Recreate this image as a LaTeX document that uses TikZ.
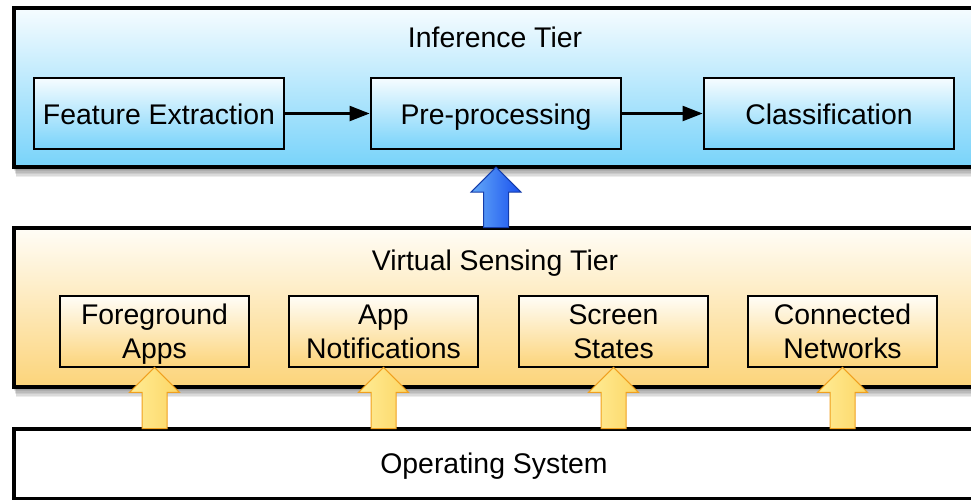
\documentclass[tikz,border=0pt]{standalone}
\usepackage{fontspec}
\setmainfont{Liberation Sans}
\usetikzlibrary{calc,arrows.meta}

\definecolor{skyTop}{RGB}{246,252,255}
\definecolor{skyBot}{RGB}{120,211,250}
\definecolor{sandTop}{RGB}{255,253,247}
\definecolor{sandBot}{RGB}{252,212,122}
\definecolor{blueL}{RGB}{100,170,248}
\definecolor{blueR}{RGB}{25,80,238}
\definecolor{blueEdge}{RGB}{20,60,170}
\definecolor{yellowL}{RGB}{255,236,150}
\definecolor{yellowR}{RGB}{252,214,100}
\definecolor{yellowEdge}{RGB}{240,160,30}

% upward block arrow: #1 style, #2 tip point, #3 foot point
\newcommand\blockup[3]{%
  \path[#1] let \p1=(#2), \p2=(#3) in
    (\x1-12.5pt,\y2) -- (\x1-12.5pt,\y1-25pt) -- (\x1-25pt,\y1-25pt) --
    (\x1,\y1) -- (\x1+25pt,\y1-25pt) -- (\x1+12.5pt,\y1-25pt) --
    (\x1+12.5pt,\y2) -- cycle;}

% soft shadow under a tier band: #1 top y, #2 bottom y
\newcommand\bandshadow[2]{%
  \foreach \i in {1,...,8}
    \fill[black,opacity=0.075] (12+\i*0.5,#1+6) rectangle (995,#2+\i*1.5);}

\begin{document}
\begin{tikzpicture}[x=1pt,y=-1pt,
  font=\fontsize{28.4}{34}\selectfont,
  tier/.style={draw=black, line width=3.6pt, anchor=north west,
    minimum width=980pt, inner sep=0pt},
  inferTier/.style={tier, top color=skyTop, bottom color=skyBot, minimum height=159pt},
  senseTier/.style={tier, top color=sandTop, bottom color=sandBot, minimum height=159pt},
  osTier/.style={tier, fill=white, minimum height=70pt},
  stage/.style={draw=black, line width=2.8pt, inner sep=0pt, align=center,
    text height=21pt, text depth=0pt,
    top color=skyTop, bottom color=skyBot, minimum width=250pt, minimum height=71pt},
  source/.style={draw=black, line width=2.8pt, inner sep=0pt, align=center,
    text depth=0pt,
    top color=sandTop, bottom color=sandBot, minimum width=189pt, minimum height=71pt},
  flow/.style={line width=2.2pt, -{Triangle[length=20pt,width=15pt]}},
  bluearrow/.style={draw=blueEdge, line width=1pt, left color=blueL, right color=blueR},
  yellowarrow/.style={draw=yellowEdge, line width=1pt, left color=yellowL, right color=yellowR},
]
\useasboundingbox (0,0) rectangle (971,499);

% tiers
\bandshadow{6}{165}
\node[inferTier] (inf) at (12,6) {};
\bandshadow{226}{385}
\node[senseTier] (sense) at (12,226) {};
\node[osTier] (os) at (12,427) {};

% tier titles
\node[anchor=base] (infT) at (495,47) {Inference Tier};
\node[anchor=base] (senseT) at (495,270) {Virtual Sensing Tier};
\node[anchor=base] (osT) at (494,473) {Operating System};

% inference stages
\node[stage] (fe) at (159,113.5) {Feature Extraction};
\node[stage] (pre) at (496,113.5) {Pre-processing};
\node[stage] (cls) at (829,113.5) {Classification};
\draw[flow] (fe) -- (pre);
\draw[flow] (pre) -- (cls);

% virtual sensors
\node[source] (fg) at (154.5,331.5) {Foreground\\Apps};
\node[source] (notif) at (383.5,331.5) {App\\Notifications};
\node[source] (scr) at (613.5,331.5) {Screen\\States};
\node[source] (net) at (842.5,331.5) {Connected\\Networks};

% data flow between tiers
\blockup{bluearrow}{$(pre.south |- inf.south)+(0,-1.5)$}{$(pre.south |- sense.north)+(0,1.5)$}
\blockup{yellowarrow}{$(fg.south)+(0,-1)$}{$(fg.south |- os.north)+(0,1.5)$}
\blockup{yellowarrow}{$(notif.south)+(0,-1)$}{$(notif.south |- os.north)+(0,1.5)$}
\blockup{yellowarrow}{$(scr.south)+(0,-1)$}{$(scr.south |- os.north)+(0,1.5)$}
\blockup{yellowarrow}{$(net.south)+(0,-1)$}{$(net.south |- os.north)+(0,1.5)$}
\end{tikzpicture}
\end{document}
